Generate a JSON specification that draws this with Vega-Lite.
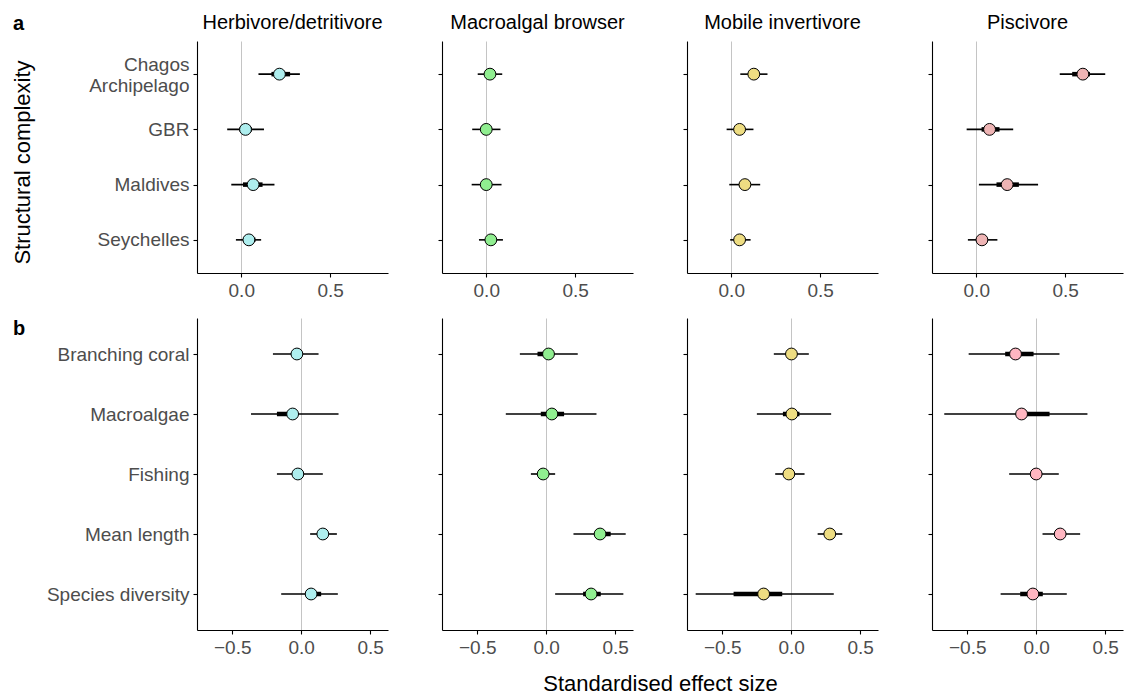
{
  "$schema": "https://vega.github.io/schema/vega-lite/v6.json",
  "padding": {"left": 11, "top": 13, "right": 4, "bottom": 0},
  "bounds": "flush",
  "columns": 4,
  "spacing": {"row": 45, "column": 54},
  "data": {"values": [
    {"row":"a","group":"Herbivore/detritivore","term":"Chagos Archipelago","est":0.215,"lo":0.097,"hi":0.33,"lo50":0.17,"hi50":0.275},
    {"row":"a","group":"Herbivore/detritivore","term":"GBR","est":0.024,"lo":-0.079,"hi":0.128,"lo50":-0.01,"hi50":0.06},
    {"row":"a","group":"Herbivore/detritivore","term":"Maldives","est":0.067,"lo":-0.056,"hi":0.187,"lo50":0.01,"hi50":0.12},
    {"row":"a","group":"Herbivore/detritivore","term":"Seychelles","est":0.043,"lo":-0.03,"hi":0.112,"lo50":0.01,"hi50":0.08},
    {"row":"a","group":"Macroalgal browser","term":"Chagos Archipelago","est":0.021,"lo":-0.048,"hi":0.09,"lo50":-0.005,"hi50":0.045},
    {"row":"a","group":"Macroalgal browser","term":"GBR","est":0.0,"lo":-0.079,"hi":0.08,"lo50":-0.03,"hi50":0.03},
    {"row":"a","group":"Macroalgal browser","term":"Maldives","est":0.0,"lo":-0.082,"hi":0.086,"lo50":-0.03,"hi50":0.03},
    {"row":"a","group":"Macroalgal browser","term":"Seychelles","est":0.026,"lo":-0.041,"hi":0.094,"lo50":0.0,"hi50":0.05},
    {"row":"a","group":"Mobile invertivore","term":"Chagos Archipelago","est":0.127,"lo":0.051,"hi":0.204,"lo50":0.1,"hi50":0.155},
    {"row":"a","group":"Mobile invertivore","term":"GBR","est":0.047,"lo":-0.026,"hi":0.125,"lo50":0.02,"hi50":0.075},
    {"row":"a","group":"Mobile invertivore","term":"Maldives","est":0.077,"lo":-0.011,"hi":0.163,"lo50":0.045,"hi50":0.11},
    {"row":"a","group":"Mobile invertivore","term":"Seychelles","est":0.047,"lo":-0.006,"hi":0.109,"lo50":0.025,"hi50":0.07},
    {"row":"a","group":"Piscivore","term":"Chagos Archipelago","est":0.6,"lo":0.47,"hi":0.726,"lo50":0.54,"hi50":0.64},
    {"row":"a","group":"Piscivore","term":"GBR","est":0.075,"lo":-0.054,"hi":0.208,"lo50":0.03,"hi50":0.131},
    {"row":"a","group":"Piscivore","term":"Maldives","est":0.174,"lo":0.015,"hi":0.348,"lo50":0.114,"hi50":0.24},
    {"row":"a","group":"Piscivore","term":"Seychelles","est":0.032,"lo":-0.047,"hi":0.119,"lo50":0.0,"hi50":0.065},
    {"row":"b","group":"Herbivore/detritivore","term":"Branching coral","est":-0.031,"lo":-0.205,"hi":0.126,"lo50":-0.07,"hi50":0.01},
    {"row":"b","group":"Herbivore/detritivore","term":"Macroalgae","est":-0.062,"lo":-0.364,"hi":0.271,"lo50":-0.176,"hi50":-0.03},
    {"row":"b","group":"Herbivore/detritivore","term":"Fishing","est":-0.024,"lo":-0.176,"hi":0.157,"lo50":-0.06,"hi50":0.02},
    {"row":"b","group":"Herbivore/detritivore","term":"Mean length","est":0.157,"lo":0.065,"hi":0.259,"lo50":0.12,"hi50":0.19},
    {"row":"b","group":"Herbivore/detritivore","term":"Species diversity","est":0.072,"lo":-0.145,"hi":0.266,"lo50":0.03,"hi50":0.145},
    {"row":"b","group":"Macroalgal browser","term":"Branching coral","est":0.017,"lo":-0.191,"hi":0.229,"lo50":-0.063,"hi50":0.05},
    {"row":"b","group":"Macroalgal browser","term":"Macroalgae","est":0.041,"lo":-0.293,"hi":0.365,"lo50":-0.039,"hi50":0.13},
    {"row":"b","group":"Macroalgal browser","term":"Fishing","est":-0.022,"lo":-0.111,"hi":0.065,"lo50":-0.05,"hi50":0.01},
    {"row":"b","group":"Macroalgal browser","term":"Mean length","est":0.391,"lo":0.198,"hi":0.577,"lo50":0.35,"hi50":0.468},
    {"row":"b","group":"Macroalgal browser","term":"Species diversity","est":0.326,"lo":0.065,"hi":0.56,"lo50":0.268,"hi50":0.396},
    {"row":"b","group":"Mobile invertivore","term":"Branching coral","est":0.002,"lo":-0.126,"hi":0.128,"lo50":-0.03,"hi50":0.035},
    {"row":"b","group":"Mobile invertivore","term":"Macroalgae","est":0.005,"lo":-0.249,"hi":0.29,"lo50":-0.06,"hi50":0.06},
    {"row":"b","group":"Mobile invertivore","term":"Fishing","est":-0.017,"lo":-0.116,"hi":0.097,"lo50":-0.05,"hi50":0.02},
    {"row":"b","group":"Mobile invertivore","term":"Mean length","est":0.28,"lo":0.192,"hi":0.371,"lo50":0.25,"hi50":0.31},
    {"row":"b","group":"Mobile invertivore","term":"Species diversity","est":-0.2,"lo":-0.693,"hi":0.309,"lo50":-0.418,"hi50":-0.065},
    {"row":"b","group":"Piscivore","term":"Branching coral","est":-0.15,"lo":-0.49,"hi":0.169,"lo50":-0.225,"hi50":-0.019},
    {"row":"b","group":"Piscivore","term":"Macroalgae","est":-0.106,"lo":-0.667,"hi":0.372,"lo50":-0.13,"hi50":0.097},
    {"row":"b","group":"Piscivore","term":"Fishing","est":0.0,"lo":-0.196,"hi":0.164,"lo50":-0.04,"hi50":0.04},
    {"row":"b","group":"Piscivore","term":"Mean length","est":0.174,"lo":0.046,"hi":0.319,"lo50":0.14,"hi50":0.21},
    {"row":"b","group":"Piscivore","term":"Species diversity","est":-0.024,"lo":-0.258,"hi":0.222,"lo50":-0.116,"hi50":0.048}
  ]},
  "concat": [
    {
      "width": 191, "height": 232,
      "title": "Herbivore/detritivore",
      "transform": [{"filter": "datum.row == 'a' && datum.group == 'Herbivore/detritivore'"}],
      "encoding": {
        "y": {"field": "term", "type": "nominal", "sort": ["Chagos Archipelago","GBR","Maldives","Seychelles"], "scale": {"type": "point", "padding": 0.6},
              "axis": {"title": "Structural complexity", "titleX": -174.5, "titleY": 121, "titleAngle": 270, "titleAlign": "center", "titleBaseline": "middle",
                       "labelExpr": "datum.label == 'Chagos Archipelago' ? ['Chagos', 'Archipelago'] : datum.label", "labelLineHeight": 21,
                       "labelOffset": {"condition": {"test": "datum.label == 'Chagos Archipelago'", "value": -10}, "value": 0}}}
      },
      "layer": [
        {"mark": {"type": "rule", "color": "black", "strokeWidth": 1.6},
         "encoding": {"x": {"field": "lo", "type": "quantitative", "scale": {"domain": [-0.249, 0.826], "nice": false, "zero": false},
                            "axis": {"values": [0, 0.5], "format": ".1f", "title": null, "grid": true, "gridColor": "#c4c4c4", "gridOpacity": {"condition": {"test": "datum.value == 0", "value": 1}, "value": 0}}},
                      "x2": {"field": "hi"}}},
        {"mark": {"type": "rule", "color": "black", "strokeWidth": 4.5},
         "encoding": {"x": {"field": "lo50", "type": "quantitative", "scale": {"domain": [-0.249, 0.826], "nice": false, "zero": false},
                            "axis": {"values": [0, 0.5], "format": ".1f", "title": null, "grid": true, "gridColor": "#c4c4c4", "gridOpacity": {"condition": {"test": "datum.value == 0", "value": 1}, "value": 0}}},
                      "x2": {"field": "hi50"}}},
        {"mark": {"type": "circle", "size": 140, "fill": "#aeeeee", "stroke": "black", "strokeWidth": 1, "opacity": 1},
         "encoding": {"x": {"field": "est", "type": "quantitative", "scale": {"domain": [-0.249, 0.826], "nice": false, "zero": false},
                            "axis": {"values": [0, 0.5], "format": ".1f", "title": null, "grid": true, "gridColor": "#c4c4c4", "gridOpacity": {"condition": {"test": "datum.value == 0", "value": 1}, "value": 0}}}}}
      ]
    },
    {
      "width": 191, "height": 232,
      "title": "Macroalgal browser",
      "transform": [{"filter": "datum.row == 'a' && datum.group == 'Macroalgal browser'"}],
      "encoding": {
        "y": {"field": "term", "type": "nominal", "sort": ["Chagos Archipelago","GBR","Maldives","Seychelles"], "scale": {"type": "point", "padding": 0.6},
              "axis": {"title": null, "labels": false}}
      },
      "layer": [
        {"mark": {"type": "rule", "color": "black", "strokeWidth": 1.6},
         "encoding": {"x": {"field": "lo", "type": "quantitative", "scale": {"domain": [-0.249, 0.826], "nice": false, "zero": false},
                            "axis": {"values": [0, 0.5], "format": ".1f", "title": null, "grid": true, "gridColor": "#c4c4c4", "gridOpacity": {"condition": {"test": "datum.value == 0", "value": 1}, "value": 0}}},
                      "x2": {"field": "hi"}}},
        {"mark": {"type": "rule", "color": "black", "strokeWidth": 4.5},
         "encoding": {"x": {"field": "lo50", "type": "quantitative", "scale": {"domain": [-0.249, 0.826], "nice": false, "zero": false},
                            "axis": {"values": [0, 0.5], "format": ".1f", "title": null, "grid": true, "gridColor": "#c4c4c4", "gridOpacity": {"condition": {"test": "datum.value == 0", "value": 1}, "value": 0}}},
                      "x2": {"field": "hi50"}}},
        {"mark": {"type": "circle", "size": 140, "fill": "#90ee90", "stroke": "black", "strokeWidth": 1, "opacity": 1},
         "encoding": {"x": {"field": "est", "type": "quantitative", "scale": {"domain": [-0.249, 0.826], "nice": false, "zero": false},
                            "axis": {"values": [0, 0.5], "format": ".1f", "title": null, "grid": true, "gridColor": "#c4c4c4", "gridOpacity": {"condition": {"test": "datum.value == 0", "value": 1}, "value": 0}}}}}
      ]
    },
    {
      "width": 191, "height": 232,
      "title": "Mobile invertivore",
      "transform": [{"filter": "datum.row == 'a' && datum.group == 'Mobile invertivore'"}],
      "encoding": {
        "y": {"field": "term", "type": "nominal", "sort": ["Chagos Archipelago","GBR","Maldives","Seychelles"], "scale": {"type": "point", "padding": 0.6},
              "axis": {"title": null, "labels": false}}
      },
      "layer": [
        {"mark": {"type": "rule", "color": "black", "strokeWidth": 1.6},
         "encoding": {"x": {"field": "lo", "type": "quantitative", "scale": {"domain": [-0.249, 0.826], "nice": false, "zero": false},
                            "axis": {"values": [0, 0.5], "format": ".1f", "title": null, "grid": true, "gridColor": "#c4c4c4", "gridOpacity": {"condition": {"test": "datum.value == 0", "value": 1}, "value": 0}}},
                      "x2": {"field": "hi"}}},
        {"mark": {"type": "rule", "color": "black", "strokeWidth": 4.5},
         "encoding": {"x": {"field": "lo50", "type": "quantitative", "scale": {"domain": [-0.249, 0.826], "nice": false, "zero": false},
                            "axis": {"values": [0, 0.5], "format": ".1f", "title": null, "grid": true, "gridColor": "#c4c4c4", "gridOpacity": {"condition": {"test": "datum.value == 0", "value": 1}, "value": 0}}},
                      "x2": {"field": "hi50"}}},
        {"mark": {"type": "circle", "size": 140, "fill": "#eedd82", "stroke": "black", "strokeWidth": 1, "opacity": 1},
         "encoding": {"x": {"field": "est", "type": "quantitative", "scale": {"domain": [-0.249, 0.826], "nice": false, "zero": false},
                            "axis": {"values": [0, 0.5], "format": ".1f", "title": null, "grid": true, "gridColor": "#c4c4c4", "gridOpacity": {"condition": {"test": "datum.value == 0", "value": 1}, "value": 0}}}}}
      ]
    },
    {
      "width": 191, "height": 232,
      "title": "Piscivore",
      "transform": [{"filter": "datum.row == 'a' && datum.group == 'Piscivore'"}],
      "encoding": {
        "y": {"field": "term", "type": "nominal", "sort": ["Chagos Archipelago","GBR","Maldives","Seychelles"], "scale": {"type": "point", "padding": 0.6},
              "axis": {"title": null, "labels": false}}
      },
      "layer": [
        {"mark": {"type": "rule", "color": "black", "strokeWidth": 1.6},
         "encoding": {"x": {"field": "lo", "type": "quantitative", "scale": {"domain": [-0.249, 0.826], "nice": false, "zero": false},
                            "axis": {"values": [0, 0.5], "format": ".1f", "title": null, "grid": true, "gridColor": "#c4c4c4", "gridOpacity": {"condition": {"test": "datum.value == 0", "value": 1}, "value": 0}}},
                      "x2": {"field": "hi"}}},
        {"mark": {"type": "rule", "color": "black", "strokeWidth": 4.5},
         "encoding": {"x": {"field": "lo50", "type": "quantitative", "scale": {"domain": [-0.249, 0.826], "nice": false, "zero": false},
                            "axis": {"values": [0, 0.5], "format": ".1f", "title": null, "grid": true, "gridColor": "#c4c4c4", "gridOpacity": {"condition": {"test": "datum.value == 0", "value": 1}, "value": 0}}},
                      "x2": {"field": "hi50"}}},
        {"mark": {"type": "circle", "size": 140, "fill": "#eeb4b4", "stroke": "black", "strokeWidth": 1, "opacity": 1},
         "encoding": {"x": {"field": "est", "type": "quantitative", "scale": {"domain": [-0.249, 0.826], "nice": false, "zero": false},
                            "axis": {"values": [0, 0.5], "format": ".1f", "title": null, "grid": true, "gridColor": "#c4c4c4", "gridOpacity": {"condition": {"test": "datum.value == 0", "value": 1}, "value": 0}}}}}
      ]
    },
    {
      "width": 191, "height": 312,
      "transform": [{"filter": "datum.row == 'b' && datum.group == 'Herbivore/detritivore'"}],
      "encoding": {
        "y": {"field": "term", "type": "nominal", "sort": ["Branching coral","Macroalgae","Fishing","Mean length","Species diversity"], "scale": {"type": "point", "padding": 0.6},
              "axis": {"title": "b", "titleAngle": 0, "titleX": -184.5, "titleY": 16, "titleAlign": "left", "titleBaseline": "alphabetic", "titleFontWeight": "bold", "titleFontSize": 20}}
      },
      "layer": [
        {"mark": {"type": "rule", "color": "black", "strokeWidth": 1.6},
         "encoding": {"x": {"field": "lo", "type": "quantitative", "scale": {"domain": [-0.756, 0.63], "nice": false, "zero": false},
                            "axis": {"values": [-0.5, 0, 0.5], "format": ".1f", "grid": true, "gridColor": "#c4c4c4", "gridOpacity": {"condition": {"test": "datum.value == 0", "value": 1}, "value": 0},
                                     "title": "a", "titleAngle": 0, "titleX": -184.5, "titleY": -601, "titleAlign": "left", "titleBaseline": "alphabetic", "titleFontWeight": "bold", "titleFontSize": 20}},
                      "x2": {"field": "hi"}}},
        {"mark": {"type": "rule", "color": "black", "strokeWidth": 4.5},
         "encoding": {"x": {"field": "lo50", "type": "quantitative", "scale": {"domain": [-0.756, 0.63], "nice": false, "zero": false},
                            "axis": {"values": [-0.5, 0, 0.5], "format": ".1f", "grid": true, "gridColor": "#c4c4c4", "gridOpacity": {"condition": {"test": "datum.value == 0", "value": 1}, "value": 0},
                                     "title": "a", "titleAngle": 0, "titleX": -184.5, "titleY": -601, "titleAlign": "left", "titleBaseline": "alphabetic", "titleFontWeight": "bold", "titleFontSize": 20}},
                      "x2": {"field": "hi50"}}},
        {"mark": {"type": "circle", "size": 140, "fill": "#aeeeee", "stroke": "black", "strokeWidth": 1, "opacity": 1},
         "encoding": {"x": {"field": "est", "type": "quantitative", "scale": {"domain": [-0.756, 0.63], "nice": false, "zero": false},
                            "axis": {"values": [-0.5, 0, 0.5], "format": ".1f", "grid": true, "gridColor": "#c4c4c4", "gridOpacity": {"condition": {"test": "datum.value == 0", "value": 1}, "value": 0},
                                     "title": "a", "titleAngle": 0, "titleX": -184.5, "titleY": -601, "titleAlign": "left", "titleBaseline": "alphabetic", "titleFontWeight": "bold", "titleFontSize": 20}}}}
      ]
    },
    {
      "width": 191, "height": 312,
      "transform": [{"filter": "datum.row == 'b' && datum.group == 'Macroalgal browser'"}],
      "encoding": {
        "y": {"field": "term", "type": "nominal", "sort": ["Branching coral","Macroalgae","Fishing","Mean length","Species diversity"], "scale": {"type": "point", "padding": 0.6},
              "axis": {"title": null, "labels": false}}
      },
      "layer": [
        {"mark": {"type": "rule", "color": "black", "strokeWidth": 1.6},
         "encoding": {"x": {"field": "lo", "type": "quantitative", "scale": {"domain": [-0.756, 0.63], "nice": false, "zero": false},
                            "axis": {"values": [-0.5, 0, 0.5], "format": ".1f", "grid": true, "gridColor": "#c4c4c4", "gridOpacity": {"condition": {"test": "datum.value == 0", "value": 1}, "value": 0},
                                     "title": "Standardised effect size", "titleAngle": 0, "titleX": 218, "titleY": 60, "titleAlign": "center", "titleBaseline": "alphabetic"}},
                      "x2": {"field": "hi"}}},
        {"mark": {"type": "rule", "color": "black", "strokeWidth": 4.5},
         "encoding": {"x": {"field": "lo50", "type": "quantitative", "scale": {"domain": [-0.756, 0.63], "nice": false, "zero": false},
                            "axis": {"values": [-0.5, 0, 0.5], "format": ".1f", "grid": true, "gridColor": "#c4c4c4", "gridOpacity": {"condition": {"test": "datum.value == 0", "value": 1}, "value": 0},
                                     "title": "Standardised effect size", "titleAngle": 0, "titleX": 218, "titleY": 60, "titleAlign": "center", "titleBaseline": "alphabetic"}},
                      "x2": {"field": "hi50"}}},
        {"mark": {"type": "circle", "size": 140, "fill": "#90ee90", "stroke": "black", "strokeWidth": 1, "opacity": 1},
         "encoding": {"x": {"field": "est", "type": "quantitative", "scale": {"domain": [-0.756, 0.63], "nice": false, "zero": false},
                            "axis": {"values": [-0.5, 0, 0.5], "format": ".1f", "grid": true, "gridColor": "#c4c4c4", "gridOpacity": {"condition": {"test": "datum.value == 0", "value": 1}, "value": 0},
                                     "title": "Standardised effect size", "titleAngle": 0, "titleX": 218, "titleY": 60, "titleAlign": "center", "titleBaseline": "alphabetic"}}}}
      ]
    },
    {
      "width": 191, "height": 312,
      "transform": [{"filter": "datum.row == 'b' && datum.group == 'Mobile invertivore'"}],
      "encoding": {
        "y": {"field": "term", "type": "nominal", "sort": ["Branching coral","Macroalgae","Fishing","Mean length","Species diversity"], "scale": {"type": "point", "padding": 0.6},
              "axis": {"title": null, "labels": false}}
      },
      "layer": [
        {"mark": {"type": "rule", "color": "black", "strokeWidth": 1.6},
         "encoding": {"x": {"field": "lo", "type": "quantitative", "scale": {"domain": [-0.756, 0.63], "nice": false, "zero": false},
                            "axis": {"values": [-0.5, 0, 0.5], "format": ".1f", "title": null, "grid": true, "gridColor": "#c4c4c4", "gridOpacity": {"condition": {"test": "datum.value == 0", "value": 1}, "value": 0}}},
                      "x2": {"field": "hi"}}},
        {"mark": {"type": "rule", "color": "black", "strokeWidth": 4.5},
         "encoding": {"x": {"field": "lo50", "type": "quantitative", "scale": {"domain": [-0.756, 0.63], "nice": false, "zero": false},
                            "axis": {"values": [-0.5, 0, 0.5], "format": ".1f", "title": null, "grid": true, "gridColor": "#c4c4c4", "gridOpacity": {"condition": {"test": "datum.value == 0", "value": 1}, "value": 0}}},
                      "x2": {"field": "hi50"}}},
        {"mark": {"type": "circle", "size": 140, "fill": "#eedd82", "stroke": "black", "strokeWidth": 1, "opacity": 1},
         "encoding": {"x": {"field": "est", "type": "quantitative", "scale": {"domain": [-0.756, 0.63], "nice": false, "zero": false},
                            "axis": {"values": [-0.5, 0, 0.5], "format": ".1f", "title": null, "grid": true, "gridColor": "#c4c4c4", "gridOpacity": {"condition": {"test": "datum.value == 0", "value": 1}, "value": 0}}}}}
      ]
    },
    {
      "width": 191, "height": 312,
      "transform": [{"filter": "datum.row == 'b' && datum.group == 'Piscivore'"}],
      "encoding": {
        "y": {"field": "term", "type": "nominal", "sort": ["Branching coral","Macroalgae","Fishing","Mean length","Species diversity"], "scale": {"type": "point", "padding": 0.6},
              "axis": {"title": null, "labels": false}}
      },
      "layer": [
        {"mark": {"type": "rule", "color": "black", "strokeWidth": 1.6},
         "encoding": {"x": {"field": "lo", "type": "quantitative", "scale": {"domain": [-0.756, 0.63], "nice": false, "zero": false},
                            "axis": {"values": [-0.5, 0, 0.5], "format": ".1f", "title": null, "grid": true, "gridColor": "#c4c4c4", "gridOpacity": {"condition": {"test": "datum.value == 0", "value": 1}, "value": 0}}},
                      "x2": {"field": "hi"}}},
        {"mark": {"type": "rule", "color": "black", "strokeWidth": 4.5},
         "encoding": {"x": {"field": "lo50", "type": "quantitative", "scale": {"domain": [-0.756, 0.63], "nice": false, "zero": false},
                            "axis": {"values": [-0.5, 0, 0.5], "format": ".1f", "title": null, "grid": true, "gridColor": "#c4c4c4", "gridOpacity": {"condition": {"test": "datum.value == 0", "value": 1}, "value": 0}}},
                      "x2": {"field": "hi50"}}},
        {"mark": {"type": "circle", "size": 140, "fill": "#ffb6c1", "stroke": "black", "strokeWidth": 1, "opacity": 1},
         "encoding": {"x": {"field": "est", "type": "quantitative", "scale": {"domain": [-0.756, 0.63], "nice": false, "zero": false},
                            "axis": {"values": [-0.5, 0, 0.5], "format": ".1f", "title": null, "grid": true, "gridColor": "#c4c4c4", "gridOpacity": {"condition": {"test": "datum.value == 0", "value": 1}, "value": 0}}}}}
      ]
    }
  ],
  "config": {
    "font": "Liberation Sans",
    "view": {"stroke": null},
    "axis": {"domainColor": "black", "domainWidth": 1.1, "tickColor": "black", "tickWidth": 1.1, "tickSize": 4,
             "labelColor": "#4d4d4d", "labelFontSize": 19, "labelFont": "Liberation Sans", "labelPadding": 4,
             "titleFont": "Liberation Sans", "titleFontSize": 22, "titleColor": "black", "titleFontWeight": "normal", "grid": false},
    "title": {"fontSize": 20, "fontWeight": "normal", "font": "Liberation Sans", "color": "black", "offset": 8, "anchor": "middle"}
  }
}
